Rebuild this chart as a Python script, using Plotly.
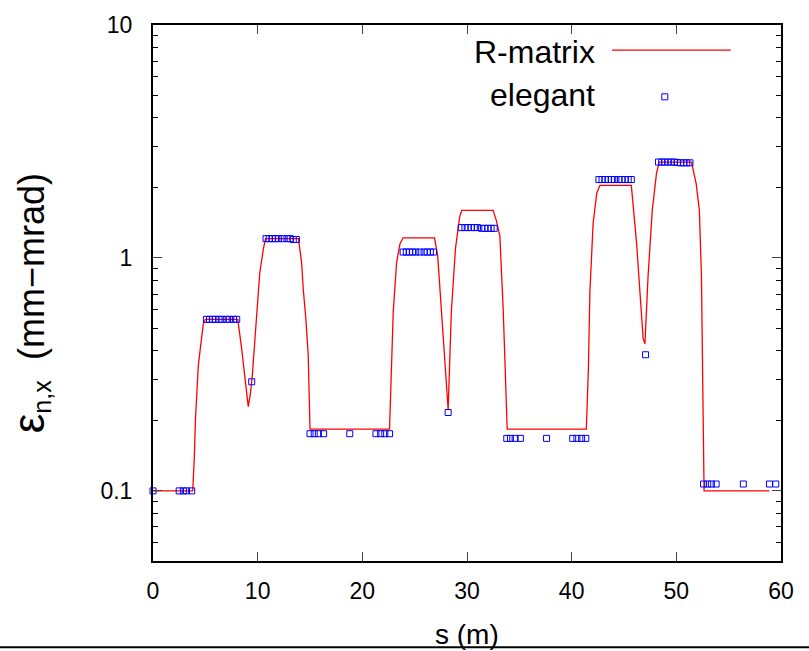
import plotly.graph_objects as go

# R-matrix curve (s in m, emittance in mm-mrad)
rm_s = [0, 3.8, 3.95, 4.05, 4.33, 4.58, 4.8, 5.0, 8.1, 8.47, 8.8, 9.1, 9.3, 9.49, 9.74, 10.06, 10.2, 10.54, 10.75, 13.9,
        14.2, 14.36, 14.6, 14.83, 15.0, 22.6, 22.75, 22.95, 23.27, 23.6, 23.9, 26.9, 27.2, 27.57, 27.9, 28.2,
        28.5, 28.9, 29.3, 29.5, 32.5, 32.8, 33.14, 33.46, 33.84, 41.4, 41.6, 41.74, 42.05, 42.4, 42.7, 45.7,
        46.2, 46.6, 46.83, 47.0, 47.3, 47.7, 48.1, 48.36, 51.45, 51.9, 52.2, 52.4, 52.56, 52.65, 58.9]
rm_eps = [0.1, 0.1, 0.14, 0.2, 0.346, 0.435, 0.52, 0.545, 0.545, 0.408, 0.3, 0.23, 0.26, 0.314, 0.45, 0.665, 0.86, 1.09, 1.21, 1.21,
          0.953, 0.73, 0.55, 0.383, 0.184, 0.184, 0.33, 0.583, 0.953, 1.15, 1.22, 1.22, 1.02, 0.583, 0.36, 0.223,
          0.583, 1.1, 1.5, 1.6, 1.6, 1.45, 1.24, 0.6, 0.184, 0.184, 0.335, 0.71, 1.41, 1.9, 2.05, 2.05,
          1.16, 0.602, 0.45, 0.428, 0.836, 1.6, 2.3, 2.58, 2.58, 2.08, 1.6, 0.836, 0.228, 0.1, 0.1]

# elegant tracking results
el_s = [0.0, 2.5, 2.9, 3.2, 3.7,
        5.1, 5.4, 5.7, 5.95, 6.3, 6.6, 7.0, 7.3, 7.7, 8.0,
        9.43,
        10.8, 11.1, 11.4, 11.7, 12.0, 12.4, 12.8, 13.1, 13.4, 13.7,
        15.0, 15.4, 15.8, 16.3, 18.8, 21.3, 21.75, 22.15, 22.6,
        23.9, 24.2, 24.5, 24.8, 25.1, 25.5, 25.9, 26.2, 26.5, 26.8,
        28.2,
        29.45, 29.8, 30.1, 30.4, 30.7, 31.0, 31.4, 31.7, 32.0, 32.3, 32.6,
        33.8, 34.15, 34.6, 35.1, 37.6, 40.1, 40.5, 40.95, 41.35,
        42.6, 42.9, 43.2, 43.5, 43.8, 44.1, 44.5, 44.8, 45.1, 45.4, 45.7,
        47.06,
        48.3, 48.6, 48.9, 49.2, 49.5, 49.8, 50.1, 50.4, 50.7, 51.0, 51.3,
        52.6, 53.0, 53.35, 53.8, 56.4, 58.9, 59.5]
el_eps = [0.1, 0.1, 0.1, 0.1, 0.1,
          0.545, 0.545, 0.545, 0.545, 0.545, 0.545, 0.545, 0.545, 0.545, 0.545,
          0.294,
          1.21, 1.21, 1.21, 1.21, 1.21, 1.21, 1.21, 1.21, 1.2, 1.2,
          0.176, 0.176, 0.176, 0.176, 0.176, 0.176, 0.176, 0.176, 0.176,
          1.06, 1.06, 1.06, 1.06, 1.06, 1.06, 1.06, 1.06, 1.06, 1.06,
          0.217,
          1.35, 1.35, 1.35, 1.35, 1.35, 1.35, 1.34, 1.34, 1.34, 1.34, 1.34,
          0.168, 0.168, 0.168, 0.168, 0.168, 0.168, 0.168, 0.168, 0.168,
          2.17, 2.17, 2.17, 2.17, 2.17, 2.17, 2.17, 2.17, 2.17, 2.17, 2.17,
          0.384,
          2.58, 2.58, 2.58, 2.58, 2.58, 2.58, 2.57, 2.56, 2.56, 2.56, 2.56,
          0.107, 0.107, 0.107, 0.107, 0.107, 0.107, 0.107]

x_ticks = [0, 10, 20, 30, 40, 50, 60]
y_ticks = [0.1, 1, 10]
y_tick_text = ["0.1", "1", "10"]
y_minor = [0.05, 0.06, 0.07, 0.08, 0.09, 0.2, 0.3, 0.4, 0.5, 0.6, 0.7, 0.8, 0.9,
           2, 3, 4, 5, 6, 7, 8, 9]

FONT = "Liberation Sans, Arial, sans-serif"

fig = go.Figure()
fig.add_trace(go.Scatter(x=rm_s, y=rm_eps, mode="lines", name="R-matrix",
                         line=dict(color="#ff0000", width=1.3)))
fig.add_trace(go.Scatter(x=el_s, y=el_eps, mode="markers", name="elegant", cliponaxis=False,
                         marker=dict(symbol="square-open", size=6, color="#0000ff",
                                     line=dict(width=1, color="#0000ff"))))

fig.update_layout(
    width=809, height=651,
    margin=dict(l=153, r=28, t=20, b=90),
    paper_bgcolor="white", plot_bgcolor="white",
    showlegend=False,
    font=dict(family=FONT, color="black"),
    xaxis=dict(range=[0, 60], tickvals=x_ticks, ticks="inside", ticklen=9, tickwidth=1,
               showline=True, linewidth=2, linecolor="black", mirror="allticks",
               showgrid=False, zeroline=False, tickfont=dict(size=23, family=FONT),
               ticklabelstandoff=8),
    yaxis=dict(type="log", range=[-1.30103, 1], tickvals=y_ticks, ticktext=y_tick_text,
               ticks="inside", ticklen=9, tickwidth=1,
               showline=True, linewidth=2, linecolor="black", mirror="allticks",
               showgrid=False, zeroline=False, tickfont=dict(size=23, family=FONT),
               ticklabelstandoff=14,
               minor=dict(tickvals=y_minor, ticks="inside", ticklen=5, tickwidth=1,
                          tickcolor="black", showgrid=False)),
)

annotations = [
    dict(text="s (m)", xref="paper", yref="paper", x=0.5, y=-0.137, xanchor="center",
         yanchor="middle", showarrow=False, font=dict(size=28, family=FONT)),
    dict(text="<span style='font-size:44px'>ε</span><sub>n,x</sub>  (mm−mrad)", xref="paper",
         yref="paper", x=-0.195, y=0.48,
         xanchor="center", yanchor="middle", textangle=-90, showarrow=False,
         font=dict(size=36, family=FONT)),
    dict(text="R-matrix", xref="paper", yref="paper", x=0.707, y=0.950, xanchor="right",
         yanchor="middle", showarrow=False, font=dict(size=32, family=FONT)),
    dict(text="elegant", xref="paper", yref="paper", x=0.707, y=0.869, xanchor="right",
         yanchor="middle", showarrow=False, font=dict(size=32, family=FONT)),
]
fig.update_layout(annotations=annotations)

shapes = [
    dict(type="line", xref="paper", yref="paper", x0=0.731, x1=0.920, y0=0.953, y1=0.953,
         line=dict(color="#ff0000", width=1.3)),
    dict(type="rect", xref="paper", yref="paper", x0=0.815 - 0.0048, x1=0.815 + 0.0048,
         y0=0.866 - 0.0056, y1=0.866 + 0.0056, line=dict(color="#0000ff", width=1)),
    dict(type="line", xref="paper", yref="paper", x0=-0.25, x1=1.05, y0=-0.161, y1=-0.161,
         line=dict(color="black", width=2)),
]
fig.update_layout(shapes=shapes)

fig.write_html("out.html", config={"displayModeBar": False},
               post_script="document.body.style.margin='0';document.body.style.overflow='hidden';")
